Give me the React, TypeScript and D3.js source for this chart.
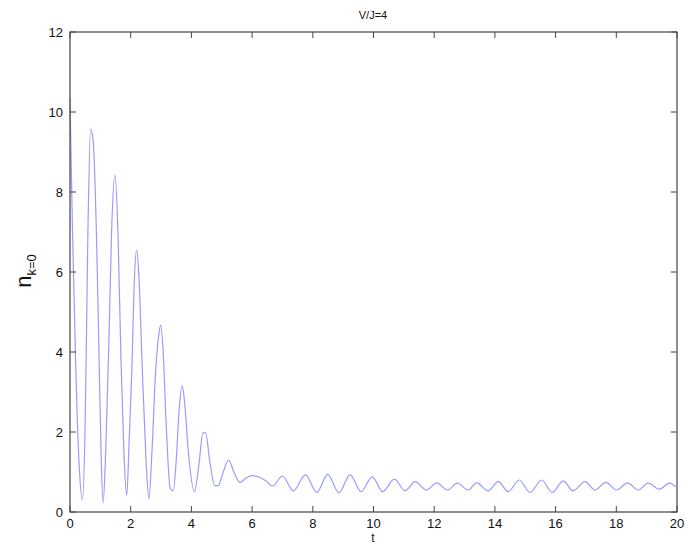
import React from "react";
import * as d3 from "d3";

const tValues = [
  0, 0.08, 0.19, 0.3, 0.41, 0.5, 0.59, 0.68, 0.76, 0.87, 0.97, 1.03, 1.09,
  1.18, 1.28, 1.37, 1.48, 1.58, 1.68, 1.78, 1.87,
  1.95, 2.04, 2.12, 2.2, 2.27, 2.38, 2.5, 2.6,
  2.7, 2.82, 2.92, 2.99, 3.07, 3.18, 3.3, 3.4,
  3.5, 3.6, 3.7, 3.78, 3.9, 4.1,
  4.25, 4.38, 4.47, 4.6, 4.77, 4.88,
  5.05, 5.22, 5.4, 5.6,
  5.8, 6.0, 6.2, 6.45, 6.67, 7.0, 7.36, 7.76, 8.13, 8.49, 8.86, 9.23, 9.59, 9.96,
  10.3, 10.69, 11.04, 11.37, 11.75, 12.08, 12.44, 12.76, 13.12, 13.4, 13.78, 14.11,
  14.44, 14.8, 15.16, 15.54, 15.89, 16.25, 16.58, 16.97, 17.3, 17.66, 18.01, 18.37,
  18.72, 19.05, 19.42, 19.75, 19.95,
];
const nValues = [
  10.35, 7.1, 3.6, 1.2, 0.3, 2.2, 7.0, 9.57, 9.3, 7.0, 3.4, 1.3, 0.23,
  1.6, 4.2, 7.0, 8.42, 7.0, 3.8, 1.4, 0.42,
  1.8, 3.6, 5.8, 6.55, 5.9, 3.6, 1.4, 0.32,
  1.5, 3.5, 4.4, 4.67, 4.0, 2.0, 0.6, 0.53,
  1.3, 2.6, 3.16, 2.7, 1.5, 0.51,
  1.2, 1.98, 1.98, 1.3, 0.66, 0.66,
  1.0, 1.3, 1.0, 0.74,
  0.85, 0.91, 0.88, 0.78, 0.65, 0.9, 0.53, 0.93, 0.49, 0.94, 0.48, 0.93, 0.51, 0.88,
  0.51, 0.82, 0.53, 0.76, 0.55, 0.73, 0.55, 0.72, 0.55, 0.73, 0.53, 0.76,
  0.51, 0.8, 0.49, 0.8, 0.49, 0.78, 0.53, 0.76, 0.55, 0.74, 0.55, 0.73,
  0.55, 0.72, 0.57, 0.72, 0.63,
];
const xTicks = [0, 2, 4, 6, 8, 10, 12, 14, 16, 18, 20];
const yTicks = [0, 2, 4, 6, 8, 10, 12];
const title = "V/J=4";
const xLabel = "t";

export default function App() {
  const W = 687, H = 551;
  const left = 70, right = 677, top = 32, bottom = 512;
  const x = d3.scaleLinear().domain([0, 20]).range([left, right]);
  const y = d3.scaleLinear().domain([0, 12]).range([bottom, top]);
  const pts = tValues.map((t, i) => [t, nValues[i]] as [number, number]);
  const line = d3.line<[number, number]>()
    .x((d) => x(d[0]))
    .y((d) => y(d[1]))
    .curve(d3.curveMonotoneX);
  const axisColor = "#444";
  const font = "'Liberation Sans', Arial, sans-serif";
  const tl = 6;
  return (
    <svg width={W} height={H} style={{ position: "absolute", left: 0, top: 0, background: "#fff" }}>
      <rect x={0} y={0} width={W} height={H} fill="#fff" />
      <path d={line(pts) || ""} fill="none" stroke="#9a9aff" strokeWidth={1.2} />
      <rect x={left} y={top} width={right - left} height={bottom - top} fill="none" stroke={axisColor} strokeWidth={1.2} />
      {xTicks.map((t) => (
        <g key={"x" + t}>
          <line x1={x(t)} x2={x(t)} y1={bottom} y2={bottom - tl} stroke={axisColor} />
          <line x1={x(t)} x2={x(t)} y1={top} y2={top + tl} stroke={axisColor} />
          <text x={x(t)} y={528} textAnchor="middle" fontFamily={font} fontSize={13} fill="#111">{t}</text>
        </g>
      ))}
      {yTicks.map((v) => (
        <g key={"y" + v}>
          <line x1={left} x2={left + tl} y1={y(v)} y2={y(v)} stroke={axisColor} />
          <line x1={right} x2={right - tl} y1={y(v)} y2={y(v)} stroke={axisColor} />
          <text x={63} y={y(v) + 4.5} textAnchor="end" fontFamily={font} fontSize={13} fill="#111">{v}</text>
        </g>
      ))}
      <text x={373} y={19} textAnchor="middle" fontFamily={font} fontSize={11} fill="#111">{title}</text>
      <text x={373} y={542} textAnchor="middle" fontFamily={font} fontSize={12} fill="#111">{xLabel}</text>
      <text transform="translate(31,271) rotate(-90)" textAnchor="middle" fontFamily={font} fill="#111">
        <tspan fontSize={22}>n</tspan>
        <tspan fontSize={13} dy={5}>k=0</tspan>
      </text>
    </svg>
  );
}
